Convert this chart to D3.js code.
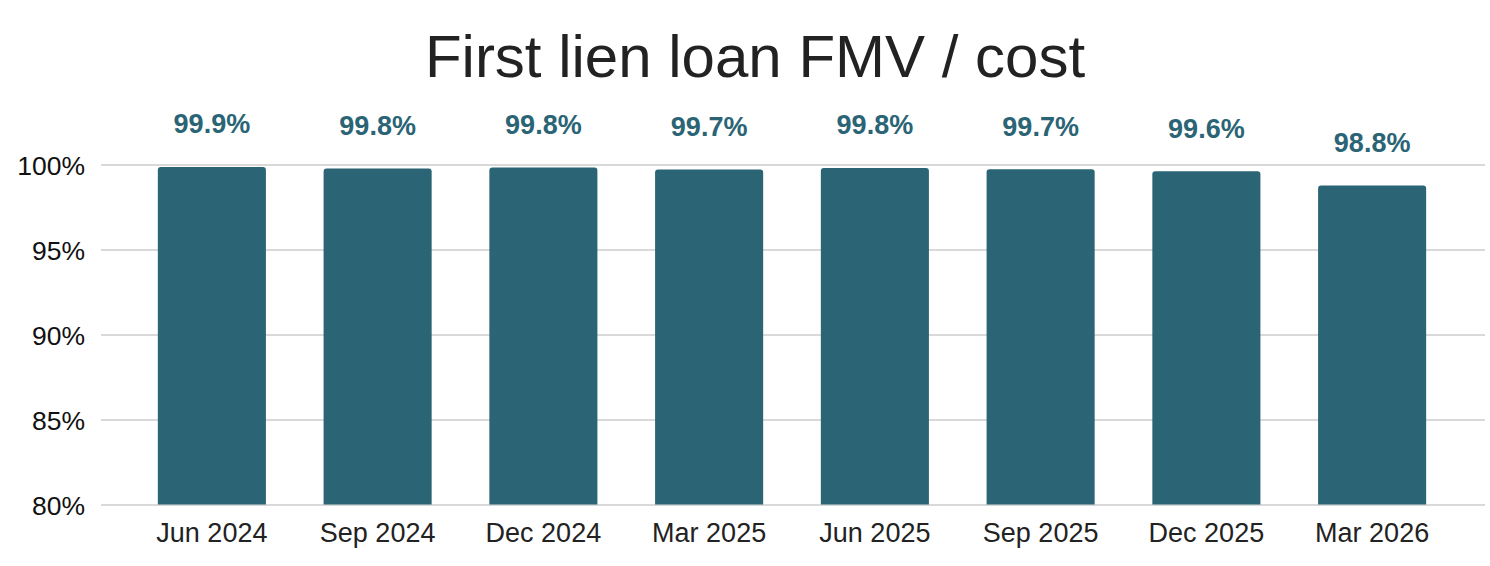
<!DOCTYPE html>
<html><head><meta charset="utf-8">
<script src="https://cdn.jsdelivr.net/npm/d3@7"></script>
<style>body{margin:0;background:#fff;font-family:"Liberation Sans",Arial,sans-serif;}</style>
</head><body><svg id="c" width="1490" height="566"></svg>
<script>
const categories = ["Jun 2024","Sep 2024","Dec 2024","Mar 2025","Jun 2025","Sep 2025","Dec 2025","Mar 2026"];
const values = [99.86, 99.76, 99.82, 99.70, 99.80, 99.72, 99.60, 98.76];
const yTicks = [80, 85, 90, 95, 100];
const title = "First lien loan FMV / cost";

const svg = d3.select("#c");
const barColor = "#2a6475";
const x = d3.scaleBand().domain(categories).range([129, 1455]).paddingInner(0.348).paddingOuter(0.174);
const y = d3.scaleLinear().domain([80, 100]).range([504.5, 164.5]);
const gridL = 101, gridR = 1485;

svg.append("text").attr("x", 755).attr("y", 77).attr("text-anchor", "middle")
  .attr("font-size", 60).attr("fill", "#222").text(title);

const yAxis = d3.axisLeft(y).tickValues(yTicks).tickFormat(d => d + "%").tickSize(0).tickPadding(0);
const gy = svg.append("g").attr("transform", `translate(${gridL},0)`).call(yAxis);
gy.select(".domain").remove();
gy.selectAll(".tick line").attr("x2", gridR - gridL).attr("stroke", "#cccccc").attr("stroke-width", 1.5);
gy.selectAll(".tick text").attr("x", -16).attr("dy", "0.36em").attr("font-size", 26.5)
  .attr("font-family", "Liberation Sans, Arial, sans-serif").attr("fill", "#111");

const r = 3;
svg.append("g").selectAll("path").data(values).join("path")
  .attr("fill", barColor)
  .attr("d", (d, i) => {
    const x0 = x(categories[i]), w = x.bandwidth(), y0 = y(d), y1 = y(80);
    return `M${x0},${y1}V${y0 + r}Q${x0},${y0} ${x0 + r},${y0}H${x0 + w - r}Q${x0 + w},${y0} ${x0 + w},${y0 + r}V${y1}Z`;
  });

const xAxis = d3.axisBottom(x).tickSize(0).tickPadding(0);
const gx = svg.append("g").attr("transform", `translate(0,${y(80)})`).call(xAxis);
gx.select(".domain").remove();
gx.selectAll(".tick text").attr("y", 37).attr("dy", 0).attr("font-size", 27)
  .attr("font-family", "Liberation Sans, Arial, sans-serif").attr("fill", "#222");

const fmt = d3.format(".1f");
svg.append("g").selectAll("text").data(values).join("text")
  .attr("x", (d, i) => x(categories[i]) + x.bandwidth() / 2)
  .attr("y", d => y(d) - 33.5)
  .attr("text-anchor", "middle").attr("font-size", 27).attr("font-weight", "bold")
  .attr("fill", barColor).text(d => fmt(d) + "%");
</script></body></html>
